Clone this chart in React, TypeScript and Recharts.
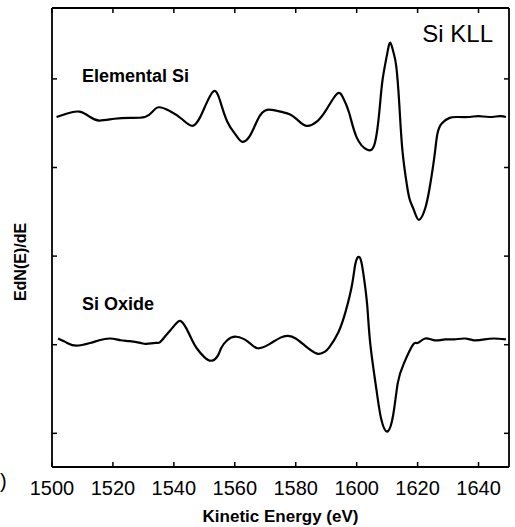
import React from "react";
import { LineChart, Line, XAxis, YAxis } from "recharts";

// Si KLL Auger spectra, derivative mode (arbitrary units)
const siEnergy = [
  1501.5, 1505, 1509, 1512.5, 1515.5, 1520.5, 1525.5, 1530.5, 1533, 1535, 1538.5, 1542.5,
  1546, 1548.5, 1550.5, 1553, 1555, 1557.5, 1560.5, 1562.5, 1565, 1567.5, 1570.5, 1575,
  1578, 1580.5, 1583.5, 1587, 1590, 1593.5, 1595.5, 1597.5, 1600, 1603.5, 1606, 1607.5,
  1608.5, 1610, 1611, 1612, 1613, 1614, 1615, 1616.5, 1617.5, 1619, 1620.5, 1622.5, 1624,
  1625.5, 1626.5, 1628, 1630.5, 1633, 1637, 1640, 1643.5, 1647, 1649,
];
const siSignal = [
  3.57, 3.61, 3.63, 3.57, 3.53, 3.55, 3.56, 3.57, 3.63, 3.68, 3.64, 3.55,
  3.47, 3.56, 3.71, 3.86, 3.77, 3.52, 3.36, 3.29, 3.36, 3.54, 3.65, 3.63,
  3.60, 3.54, 3.47, 3.52, 3.65, 3.83, 3.79, 3.62, 3.34, 3.20, 3.28, 3.65,
  3.99, 4.28, 4.41, 4.31, 4.14, 3.71, 3.20, 2.80, 2.63, 2.50, 2.41, 2.54, 2.78,
  3.12, 3.38, 3.50, 3.56, 3.57, 3.57, 3.58, 3.57, 3.58, 3.57,
];

const oxEnergy = [
  1502, 1505, 1508, 1512.5, 1515.5, 1519, 1522.5, 1525.5, 1529, 1531, 1534, 1535.5,
  1537.5, 1540, 1542, 1544, 1546, 1547.5, 1550, 1552.5, 1554.5, 1555.5, 1557.5, 1560.5,
  1564.5, 1567.5, 1571.5, 1575, 1577.5, 1580, 1583, 1587, 1589.5, 1591, 1594, 1596.5,
  1598.5, 1599.5, 1600.5, 1601.5, 1602.5, 1603.5, 1604.5, 1606.5, 1608, 1610, 1612,
  1613.5, 1615.5, 1618.5, 1620, 1622.5, 1625.5, 1629, 1632, 1635.5, 1638.5, 1642,
  1645, 1649,
];
const oxSignal = [
  1.07, 1.02, 0.99, 1.02, 1.05, 1.07, 1.05, 1.04, 1.02, 1.01, 1.02, 1.03,
  1.11, 1.21, 1.27, 1.19, 1.05, 0.96, 0.86, 0.82, 0.88, 0.96, 1.05, 1.09,
  1.03, 0.96, 1.01, 1.08, 1.10, 1.07, 0.99, 0.90, 0.92, 0.97, 1.14, 1.39,
  1.68, 1.90, 1.99, 1.94, 1.73, 1.43, 1.00, 0.49, 0.17, 0.02, 0.21,
  0.57, 0.79, 1.00, 1.02, 1.07, 1.05, 1.06, 1.06, 1.07, 1.05, 1.06,
  1.07, 1.06,
];

const energyTicks = [1500, 1520, 1540, 1560, 1580, 1600, 1620, 1640];
const signalTicks = [0, 1, 2, 3, 4];

const siData = siEnergy.map((e, i) => ({ e, v: siSignal[i] }));
const oxData = oxEnergy.map((e, i) => ({ e, v: oxSignal[i] }));

const FONT = '"Liberation Sans", Arial, Helvetica, sans-serif';
const blank = () => "";
const axisLine = { stroke: "#000", strokeWidth: 1.8 };
const tickLine = { stroke: "#000", strokeWidth: 1.5 };
const X_DOMAIN = [1500, 1650];
const Y_DOMAIN = [-0.38, 4.8];

export default function App() {
  return (
    <div style={{ position: "relative", width: 515, height: 527, background: "#fff" }}>
      <style>{`body{margin:0}`}</style>
      <LineChart
        width={515}
        height={527}
        margin={{ top: 8, right: 6, bottom: 0, left: 52 }}
        style={{ fontFamily: FONT }}
      >
        {/* labels below the frame */}
        <XAxis
          xAxisId="bottom"
          dataKey="e"
          type="number"
          domain={X_DOMAIN}
          ticks={energyTicks}
          allowDataOverflow
          height={60}
          axisLine={false}
          tickLine={false}
          tickMargin={8}
          tick={{ fill: "#000", fontSize: 20 }}
          label={{
            value: "Kinetic Energy (eV)",
            position: "insideBottom",
            offset: 5,
            style: { fill: "#000", fontSize: 17, fontWeight: "bold" },
          }}
        />
        {/* frame with inward ticks */}
        <XAxis
          xAxisId="frameBottom"
          dataKey="e"
          type="number"
          mirror
          domain={X_DOMAIN}
          ticks={energyTicks}
          allowDataOverflow
          height={10}
          axisLine={axisLine}
          tickLine={tickLine}
          tickSize={5}
          tickFormatter={blank}
        />
        <XAxis
          xAxisId="top"
          orientation="top"
          mirror
          dataKey="e"
          type="number"
          domain={X_DOMAIN}
          ticks={energyTicks}
          allowDataOverflow
          height={10}
          axisLine={axisLine}
          tickLine={tickLine}
          tickSize={5}
          tickFormatter={blank}
        />
        <YAxis
          yAxisId="left"
          mirror
          type="number"
          domain={Y_DOMAIN}
          ticks={signalTicks}
          allowDataOverflow
          width={10}
          axisLine={axisLine}
          tickLine={tickLine}
          tickSize={5}
          tickFormatter={blank}
        />
        <YAxis
          yAxisId="right"
          orientation="right"
          mirror
          type="number"
          domain={Y_DOMAIN}
          ticks={signalTicks}
          allowDataOverflow
          width={10}
          axisLine={axisLine}
          tickLine={tickLine}
          tickSize={5}
          tickFormatter={blank}
        />
        <Line
          data={siData}
          xAxisId="bottom"
          yAxisId="left"
          dataKey="v"
          type="natural"
          stroke="#000"
          strokeWidth={2.2}
          dot={false}
          isAnimationActive={false}
        />
        <Line
          data={oxData}
          xAxisId="top"
          yAxisId="right"
          dataKey="v"
          type="natural"
          stroke="#000"
          strokeWidth={2.2}
          dot={false}
          isAnimationActive={false}
        />
      </LineChart>
      <svg
        width={515}
        height={527}
        style={{ position: "absolute", left: 0, top: 0, pointerEvents: "none", fontFamily: FONT }}
      >
        <text x={493} y={42} textAnchor="end" fontSize={24} fill="#000">
          Si KLL
        </text>
        <text x={82} y={82} fontSize={18} fontWeight="bold" fill="#000">
          Elemental Si
        </text>
        <text x={82} y={310} fontSize={18} fontWeight="bold" fill="#000">
          Si Oxide
        </text>
        <text
          x={26}
          y={262}
          transform="rotate(-90 26 262)"
          textAnchor="middle"
          fontSize={16}
          fontWeight="bold"
          fill="#000"
        >
          EdN(E)/dE
        </text>
        <text x={0} y={488} fontSize={20} fill="#000">
          )
        </text>
      </svg>
    </div>
  );
}
